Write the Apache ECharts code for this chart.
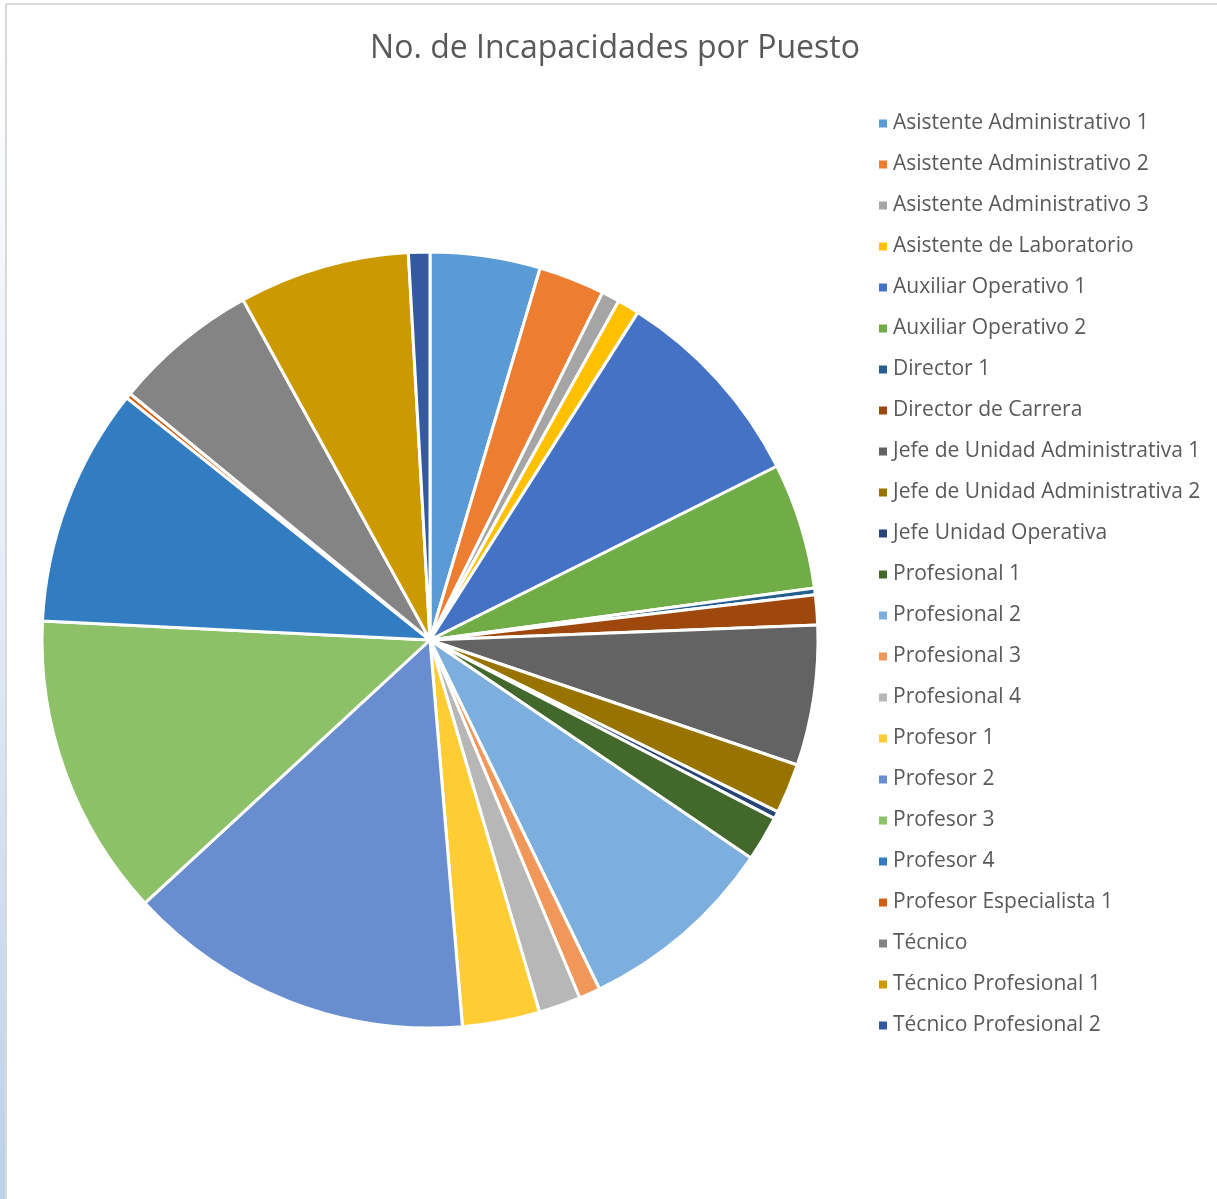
<!DOCTYPE html>
<html>
<head>
<meta charset="utf-8">
<script src="https://cdn.jsdelivr.net/npm/echarts@6/dist/echarts.min.js"></script>
<style>
html,body{margin:0;padding:0;background:#fff;}
#chart{width:1217px;height:1199px;}
</style>
</head>
<body>
<div id="chart"></div>
<script>
const titleText = "No. de Incapacidades por Puesto";
const categories = [
  "Asistente Administrativo 1","Asistente Administrativo 2","Asistente Administrativo 3",
  "Asistente de Laboratorio","Auxiliar Operativo 1","Auxiliar Operativo 2","Director 1",
  "Director de Carrera","Jefe de Unidad Administrativa 1","Jefe de Unidad Administrativa 2",
  "Jefe Unidad Operativa","Profesional 1","Profesional 2","Profesional 3","Profesional 4",
  "Profesor 1","Profesor 2","Profesor 3","Profesor 4","Profesor Especialista 1","Técnico",
  "Técnico Profesional 1","Técnico Profesional 2"
];
const values = [
  16.5, 9.9, 2.7, 3.3, 31.0, 18.9, 1.0, 4.5, 21.0, 7.5, 1.1, 6.8, 29.9, 3.2, 6.3,
  11.6, 52.1, 45.5, 35.8, 0.8, 21.8, 25.6, 3.2
];
const colors = [
  "#5B9BD5","#ED7D31","#A5A5A5","#FFC000","#4472C4","#70AD47","#255E91","#9E480E",
  "#636363","#997300","#264478","#43682B","#7CAFDD","#F1975A","#B7B7B7","#FFCD33",
  "#698ED0","#8CC168","#327DC2","#D26012","#848484","#CC9A00","#335AA1"
];

const chart = echarts.init(document.getElementById('chart'), null, {renderer:'canvas'});
const fontFam = "'Open Sans', Lato, sans-serif";
chart.setOption({
  animation:false,
  color: colors,
  title:{
    text: titleText,
    left: 615, top: 33, textAlign:'center', padding:0,
    textStyle:{fontFamily:fontFam, fontSize:32, fontWeight:'normal', color:'#595959'}
  },
  legend:{
    orient:'vertical', left: 877, top: 113, padding:0,
    icon:'rect', itemWidth:10, itemHeight:10, itemGap:20, itemTextGap:10,
    textStyle:{fontFamily:fontFam, fontSize:21, lineHeight:21, color:'#595959'},
    data: categories
  },
  graphic:[
    {type:'rect', shape:{x:0,y:0,width:5,height:1199}, silent:true,
     style:{fill:new echarts.graphic.LinearGradient(0,0,0,1,[{offset:0,color:'#ffffff'},{offset:0.45,color:'#e6eef8'},{offset:1,color:'#bcd0ea'}])}},
    {type:'line', shape:{x1:6,y1:4,x2:1217,y2:4}, silent:true, style:{stroke:'#d9d9d9', lineWidth:2}},
    {type:'line', shape:{x1:6,y1:4,x2:6,y2:1199}, silent:true, style:{stroke:'#d9d9d9', lineWidth:2}}
  ],
  series:[{
    type:'pie',
    center:[430,640],
    radius:388,
    startAngle:90,
    clockwise:true,
    avoidLabelOverlap:false,
    label:{show:false}, labelLine:{show:false},
    itemStyle:{borderColor:'#ffffff', borderWidth:3},
    emphasis:{disabled:true},
    data: categories.map((c,i)=>({name:c, value:values[i]}))
  }]
});
</script>
</body>
</html>
